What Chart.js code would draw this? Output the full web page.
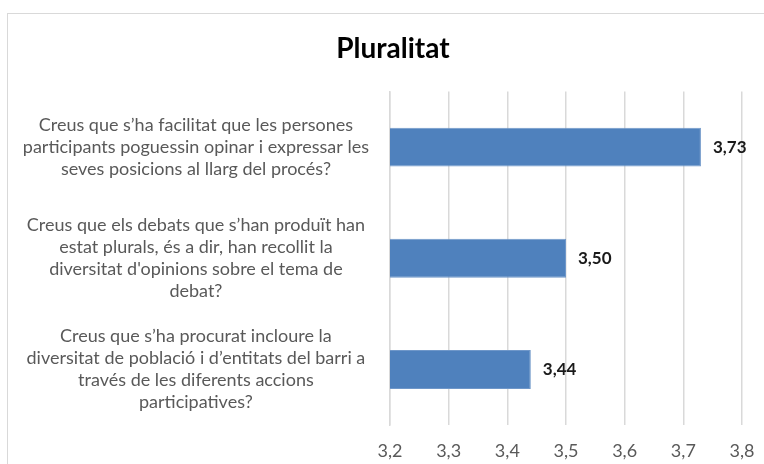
<!DOCTYPE html>
<html>
<head>
<meta charset="utf-8">
<script src="https://cdn.jsdelivr.net/npm/chart.js@4/dist/chart.umd.min.js"></script>
<style>
html,body{margin:0;padding:0;background:#fff;}
#wrap{width:764px;height:464px;position:relative;}
</style>
</head>
<body>
<div id="wrap"><canvas id="c" width="764" height="464"></canvas></div>
<script>
const chartTitle = "Pluralitat";
const categories = [
  ["Creus que s’ha facilitat que les persones", "participants poguessin opinar i expressar les", "seves posicions al llarg del procés?"],
  ["Creus que els debats que s’han produït han", "estat plurals, és a dir, han recollit la", "diversitat d'opinions sobre el tema de", "debat?"],
  ["Creus que s’ha procurat incloure la", "diversitat de població i d’entitats del barri a", "través de les diferents accions", "participatives?"]
];
const values = [3.73, 3.50, 3.44];
const axisMin = 3.2, axisMax = 3.8, axisStep = 0.1;

const fmt = v => v.toFixed(2).replace('.', ',');

const frame = {
  id: 'frame',
  beforeDraw(chart) {
    const ctx = chart.ctx;
    ctx.save();
    ctx.fillStyle = '#fff';
    ctx.fillRect(0, 0, chart.width, chart.height);
    ctx.strokeStyle = '#d9d9d9';
    ctx.lineWidth = 1;
    ctx.strokeRect(7.5, 13.5, 900, 600);
    ctx.restore();
  },
  afterLayout(chart) {
    // centre the title on the full chart frame (which runs past the right edge)
    if (chart.titleBlock) {
      chart.titleBlock.left = 22;
      chart.titleBlock.right = 764;
    }
  }
};

const valueLabels = {
  id: 'valueLabels',
  afterDatasetsDraw(chart) {
    const ctx = chart.ctx;
    const meta = chart.getDatasetMeta(0);
    ctx.save();
    ctx.font = 'bold 17px Lato';
    ctx.fillStyle = '#1a1a1a';
    ctx.textAlign = 'left';
    ctx.textBaseline = 'middle';
    meta.data.forEach((el, i) => {
      ctx.fillText(fmt(chart.data.datasets[0].data[i]), el.x + 12, el.y);
    });
    ctx.restore();
  }
};

new Chart(document.getElementById('c'), {
  type: 'bar',
  data: {
    labels: categories,
    datasets: [{
      data: values,
      backgroundColor: '#4f81bd',
      borderColor: '#6f97c9',
      borderWidth: 1,
      barPercentage: 0.35,
      categoryPercentage: 1
    }]
  },
  options: {
    indexAxis: 'y',
    responsive: false,
    animation: false,
    layout: { padding: { left: 22, right: 22, top: 0, bottom: 4 } },
    plugins: {
      legend: { display: false },
      tooltip: { enabled: false },
      title: {
        display: true,
        text: chartTitle,
        color: '#000',
        font: { family: 'Lato', size: 28, weight: 'bold' },
        padding: { top: 32, bottom: 26 }
      }
    },
    scales: {
      x: {
        min: axisMin, max: axisMax,
        ticks: {
          stepSize: axisStep,
          color: '#595959',
          font: { family: 'Lato', size: 18 },
          padding: 15,
          maxRotation: 0,
          callback: v => v.toFixed(1).replace('.', ',')
        },
        grid: { color: '#d9d9d9', drawTicks: false, lineWidth: 1.5 },
        border: { display: false },
        afterFit(scale) {
          scale.height = 35;
          scale.paddingTop = 0;
          scale.paddingBottom = 0;
          scale.paddingLeft = 0;
          scale.paddingRight = 0;
        }
      },
      y: {
        ticks: {
          color: '#595959',
          font: { family: 'Lato', size: 18, lineHeight: 1.22 },
          crossAlign: 'center',
          padding: 21
        },
        grid: { display: false, drawTicks: false },
        border: { display: true, color: '#d9d9d9', width: 1.5 },
        afterFit(scale) {
          scale.width = 368;
          scale.paddingTop = 0;
          scale.paddingBottom = 0;
        }
      }
    }
  },
  plugins: [frame, valueLabels]
});
</script>
</body>
</html>
